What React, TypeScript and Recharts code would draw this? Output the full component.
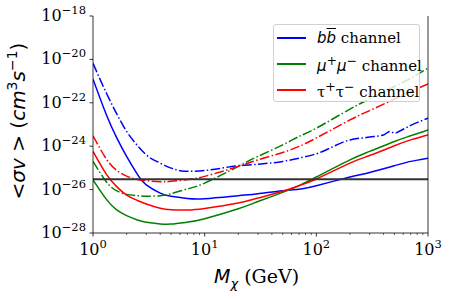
import React from "react";
import { LineChart, Line, XAxis, YAxis, ReferenceLine } from "recharts";

// dark matter mass grid (GeV)
const MASS = [1, 1.32, 1.62, 2, 2.5, 3, 4, 5, 7, 10, 20, 30, 50, 70, 100, 200, 300, 500, 700, 1000];

// log10 <sigma v>
const BB_SOLID = [-20.91, -22.56, -23.58, -24.47, -25.3, -25.78, -26.16, -26.31, -26.41, -26.42, -26.28, -26.19, -26.05, -25.98, -25.82, -25.42, -25.21, -24.9, -24.7, -24.55];
const MUMU_SOLID = [-25.55, -26.45, -26.92, -27.2, -27.4, -27.5, -27.58, -27.59, -27.5, -27.34, -26.88, -26.55, -26.13, -25.82, -25.42, -24.63, -24.24, -23.78, -23.52, -23.25];
const TAUTAU_SOLID = [-24.24, -25.3, -25.85, -26.25, -26.5, -26.66, -26.86, -26.93, -26.94, -26.87, -26.62, -26.39, -26.08, -25.82, -25.51, -24.78, -24.43, -23.98, -23.71, -23.48];
const MUMU_DASH = [-24.7, -25.65, -26.05, -26.22, -26.28, -26.31, -26.28, -26.19, -25.97, -25.7, -24.93, -24.47, -23.94, -23.55, -23.17, -22.29, -21.83, -21.25, -20.87, -20.4];
const TAUTAU_DASH = [-23.52, -24.6, -25.1, -25.38, -25.53, -25.59, -25.64, -25.62, -25.54, -25.39, -24.93, -24.63, -24.29, -24.01, -23.62, -22.79, -22.36, -21.83, -21.48, -21.13];

// blue dash-dot has a small kink near 500 GeV
const BB_DASH_MASS = [1, 1.32, 1.62, 2, 2.5, 3, 4, 5, 7, 10, 20, 30, 50, 70, 100, 200, 300, 400, 455, 505, 560, 700, 1000];
const BB_DASH = [-20.18, -21.56, -22.48, -23.32, -23.97, -24.4, -24.78, -25.01, -25.16, -25.12, -24.9, -24.83, -24.7, -24.55, -24.35, -23.71, -23.58, -23.48, -23.32, -23.4, -23.3, -23.04, -22.71];

const THERMAL = 3e-26;

const X_MAJOR = [1, 10, 100, 1000];
const X_MINOR = [2, 3, 4, 5, 6, 7, 8, 9, 20, 30, 40, 50, 60, 70, 80, 90, 200, 300, 400, 500, 600, 700, 800, 900];
const Y_TICKS = [-28, -26, -24, -22, -20, -18];

const toSeries = (mass: number[], logs: number[]) =>
  mass.map((m, i) => ({ m, v: Math.pow(10, logs[i]) }));

const SERIF = "'DejaVu Serif', 'Liberation Serif', serif";
const SANS = "'DejaVu Sans', sans-serif";
const DASHDOT = "9.6 2.4 1.5 2.4";

function XTick({ x, y, payload }: any) {
  const v = payload.value;
  const major = X_MAJOR.includes(v);
  const exp = Math.round(Math.log10(v));
  return (
    <g>
      <line x1={x} x2={x} y1={y} y2={y + (major ? 3.5 : 2)} stroke="#000" strokeWidth={major ? 0.8 : 0.6} />
      {major && (
        <text x={x} y={y + 22} textAnchor="middle" style={{ fontFamily: SERIF }} fontSize={16} fill="#000">
          10<tspan dy={-7} fontSize={11.5}>{exp}</tspan>
        </text>
      )}
    </g>
  );
}

function YTick({ x, y, payload }: any) {
  const v = payload.value;
  const exp = Math.round(Math.log10(v));
  return (
    <g>
      <line x1={x - 3.5} x2={x} y1={y} y2={y} stroke="#000" strokeWidth={0.8} />
      <text x={x - 7} y={y + 5} textAnchor="end" style={{ fontFamily: SERIF }} fontSize={16} fill="#000">
        10<tspan dy={-7} fontSize={11.5}>{"\u2212" + Math.abs(exp)}</tspan>
      </text>
    </g>
  );
}

const LEGEND = [
  { color: "#0000ff", label: <><i style={{ fontFamily: SANS }}>b</i><i style={{ fontFamily: SANS, textDecoration: "overline" }}>b</i> channel</> },
  { color: "#008000", label: <><i style={{ fontFamily: SANS }}>μ</i><sup>+</sup><i style={{ fontFamily: SANS }}>μ</i><sup>−</sup> channel</> },
  { color: "#ff0000", label: <>τ<sup>+</sup>τ<sup>−</sup> channel</> },
];

export default function App() {
  return (
    <div style={{ position: "absolute", left: 0, top: 0, width: 451, height: 299, background: "#fff" }}>
      <LineChart width={451} height={299} margin={{ top: 16, right: 22, bottom: 6, left: 8 }}>
        <XAxis
          xAxisId="b"
          dataKey="m"
          type="number"
          scale="log"
          domain={[1, 1000]}
          allowDataOverflow
          ticks={[...X_MAJOR, ...X_MINOR]}
          interval={0}
          tickLine={false}
          tickSize={0}
          tickMargin={0}
          tick={<XTick />}
          height={60}
          axisLine={{ stroke: "#000", strokeWidth: 0.8 }}
        />
        <XAxis xAxisId="t" orientation="top" type="number" domain={[0, 1]} tick={false} tickLine={false} height={0} axisLine={{ stroke: "#000", strokeWidth: 0.8 }} />
        <YAxis
          yAxisId="l"
          type="number"
          scale="log"
          domain={[1e-28, 1e-18]}
          allowDataOverflow
          ticks={Y_TICKS.map((e) => Math.pow(10, e))}
          interval={0}
          tickLine={false}
          tickSize={0}
          tickMargin={0}
          tick={<YTick />}
          width={85}
          axisLine={{ stroke: "#000", strokeWidth: 0.8 }}
        />
        <YAxis yAxisId="r" orientation="right" type="number" domain={[0, 1]} tick={false} tickLine={false} width={1} axisLine={{ stroke: "#000", strokeWidth: 0.8 }} />

        <Line xAxisId="b" yAxisId="l" data={toSeries(MASS, BB_SOLID)} dataKey="v" type="natural" stroke="#0000ff" strokeWidth={1.5} dot={false} isAnimationActive={false} />
        <Line xAxisId="b" yAxisId="l" data={toSeries(BB_DASH_MASS, BB_DASH)} dataKey="v" type="monotone" stroke="#0000ff" strokeWidth={1.5} strokeDasharray={DASHDOT} dot={false} isAnimationActive={false} />
        <Line xAxisId="b" yAxisId="l" data={toSeries(MASS, MUMU_SOLID)} dataKey="v" type="natural" stroke="#008000" strokeWidth={1.5} dot={false} isAnimationActive={false} />
        <Line xAxisId="b" yAxisId="l" data={toSeries(MASS, MUMU_DASH)} dataKey="v" type="natural" stroke="#008000" strokeWidth={1.5} strokeDasharray={DASHDOT} dot={false} isAnimationActive={false} />
        <Line xAxisId="b" yAxisId="l" data={toSeries(MASS, TAUTAU_SOLID)} dataKey="v" type="natural" stroke="#ff0000" strokeWidth={1.5} dot={false} isAnimationActive={false} />
        <Line xAxisId="b" yAxisId="l" data={toSeries(MASS, TAUTAU_DASH)} dataKey="v" type="natural" stroke="#ff0000" strokeWidth={1.5} strokeDasharray={DASHDOT} dot={false} isAnimationActive={false} />
        <ReferenceLine xAxisId="b" yAxisId="l" y={THERMAL} stroke="#333" strokeWidth={2} />
      </LineChart>

      {/* legend, matplotlib-style translucent frame */}
      <div
        style={{
          position: "absolute", left: 273, top: 24, width: 147, height: 78,
          border: "1px solid #d0d0d0", borderRadius: 3, background: "rgba(255,255,255,0.8)",
          fontFamily: SERIF, fontSize: 15, color: "#000", boxSizing: "border-box",
        }}
      >
        {LEGEND.map((e, i) => (
          <div key={i} style={{ position: "absolute", left: 3, top: 3 + i * 26, height: 20, display: "flex", alignItems: "center", whiteSpace: "nowrap" }}>
            <span style={{ display: "inline-block", width: 29, height: 2, background: e.color, marginRight: 11 }} />
            <span style={{ lineHeight: 1 }}>{e.label}</span>
          </div>
        ))}
      </div>

      {/* axis titles */}
      <div style={{ position: "absolute", left: 214, top: 265, fontSize: 19, fontFamily: SERIF, whiteSpace: "nowrap" }}>
        <i style={{ fontFamily: SANS }}>M</i><sub style={{ fontFamily: SANS, fontStyle: "italic", fontSize: 13 }}>χ</sub> (GeV)
      </div>
      <div
        style={{
          position: "absolute", left: 17, top: 121, transform: "translate(-50%, -50%) rotate(-90deg)",
          fontSize: 20, fontFamily: SANS, whiteSpace: "nowrap",
        }}
      >
        &lt;<i>σv</i> &gt; (<i>cm</i><sup style={{ fontSize: 14 }}>3</sup><i>s</i><sup style={{ fontSize: 14 }}>−1</sup>)
      </div>
    </div>
  );
}
